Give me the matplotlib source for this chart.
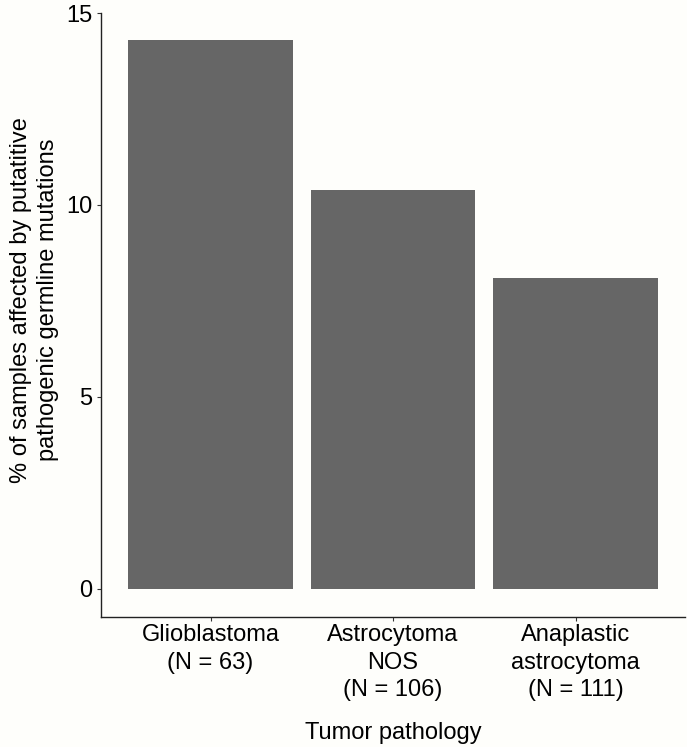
import matplotlib.pyplot as plt
import numpy as np

plt.rcParams['font.family'] = ['Liberation Sans', 'DejaVu Sans']

# data
categories = ['Glioblastoma\n(N = 63)', 'Astrocytoma\nNOS\n(N = 106)', 'Anaplastic\nastrocytoma\n(N = 111)']
percent = [14.29, 10.38, 8.11]
yticks = [0, 5, 10, 15]

bg = '#fefefb'
fs = 17
fig = plt.figure(figsize=(6.87, 7.47), dpi=100, facecolor=bg)
ax = fig.add_axes([101/687, 130/747, 584/687, 604/747], facecolor=bg)

x = np.arange(1, len(categories) + 1)
ax.bar(x, percent, width=0.9, color='#666666')

ax.set_xlim(0.4, 3.6)
ax.set_ylim(-0.73, 15)
ax.set_xticks(x)
ax.set_xticklabels(categories, fontsize=fs, linespacing=1.33)
ax.set_yticks(yticks)
ax.set_yticklabels([str(t) for t in yticks], fontsize=fs)
ax.tick_params(length=3, width=0.8, colors='#333333', labelcolor='black')
ax.tick_params(axis='x', pad=2)
ax.tick_params(axis='y', pad=3)

for s in ['top', 'right']:
    ax.spines[s].set_visible(False)
for s in ['left', 'bottom']:
    ax.spines[s].set_linewidth(1.0)
    ax.spines[s].set_color('#222222')

ax.set_xlabel('Tumor pathology', fontsize=fs, labelpad=15)
ax.set_ylabel('% of samples affected by putatitive\npathogenic germline mutations',
              fontsize=fs, linespacing=1.3)
ax.yaxis.set_label_coords(-0.072, 0.525)

plt.savefig('out.png', dpi=100, facecolor=bg)
